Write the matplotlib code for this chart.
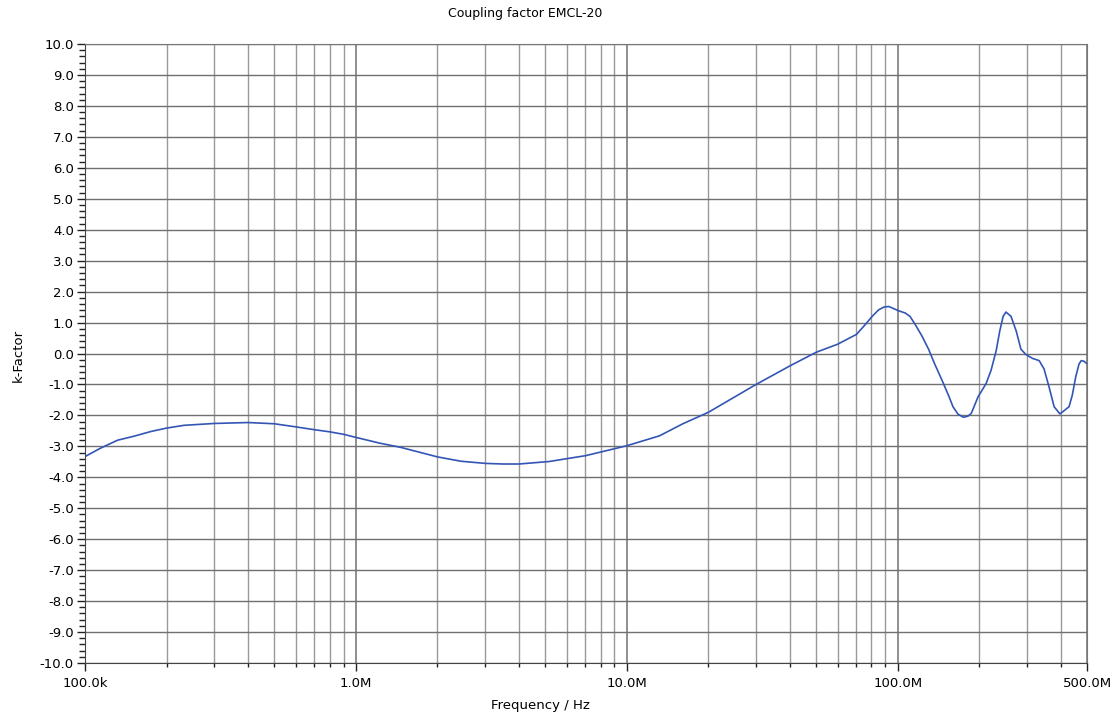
import matplotlib
matplotlib.use("Agg")
import matplotlib.pyplot as plt
import numpy as np
from matplotlib.ticker import FixedLocator, MultipleLocator, FuncFormatter, NullFormatter, LogLocator

# frequency in Hz, k-factor
freq = [100e3, 114e3, 132e3, 152e3, 175e3, 200e3, 232e3, 300e3, 400e3, 500e3,
        600e3, 700e3, 800e3, 900e3, 1.0e6, 1.23e6, 1.46e6, 2.0e6, 2.44e6, 3.0e6,
        3.5e6, 4.0e6, 5.16e6, 7.05e6, 10e6, 13.2e6, 16.1e6, 20e6, 30e6, 40e6,
        50e6, 60e6, 70.5e6, 76e6, 80.5e6, 85e6, 88.9e6, 92.7e6, 96.7e6, 100.8e6,
        106.6e6, 111e6, 116e6, 123e6, 130e6, 137e6, 145e6, 154e6, 160e6, 167e6,
        175e6, 182e6, 187e6, 198e6, 212e6, 221e6, 231e6, 238e6, 245e6, 251e6,
        262e6, 274e6, 285e6, 298e6, 315e6, 333e6, 347e6, 362e6, 378e6, 397e6,
        411e6, 429e6, 441e6, 454e6, 467e6, 476e6, 487e6, 498e6]
kfac = [-3.33, -3.06, -2.80, -2.67, -2.52, -2.41, -2.32, -2.26, -2.23, -2.27,
        -2.37, -2.46, -2.53, -2.61, -2.71, -2.90, -3.03, -3.34, -3.48, -3.55,
        -3.57, -3.57, -3.49, -3.30, -2.98, -2.66, -2.27, -1.90, -1.00, -0.40,
        0.04, 0.30, 0.62, 0.94, 1.20, 1.41, 1.50, 1.52, 1.45, 1.38,
        1.31, 1.20, 0.94, 0.56, 0.14, -0.34, -0.82, -1.35, -1.72, -1.96,
        -2.06, -2.02, -1.93, -1.40, -0.97, -0.55, 0.09, 0.72, 1.20, 1.34,
        1.20, 0.72, 0.14, -0.04, -0.16, -0.23, -0.50, -1.08, -1.72, -1.95,
        -1.85, -1.72, -1.35, -0.76, -0.34, -0.23, -0.25, -0.32]

xticks = [100e3, 1e6, 10e6, 100e6, 500e6]
xlabels = ["100.0k", "1.0M", "10.0M", "100.0M", "500.0M"]

fig = plt.figure(figsize=(11.14, 7.17), dpi=100)
ax = fig.add_axes([0.0763, 0.0753, 0.8995, 0.8633])

ax.plot(freq, kfac, color="#3355b5", lw=1.2)

ax.set_xscale("log")
ax.set_xlim(100e3, 500e6)
ax.set_ylim(-10, 10)

ax.xaxis.set_major_locator(FixedLocator(xticks))
ax.xaxis.set_major_formatter(FuncFormatter(lambda v, p: xlabels[xticks.index(v)] if v in xticks else ""))
ax.xaxis.set_minor_locator(LogLocator(base=10, subs=np.arange(2, 10), numticks=20))
ax.xaxis.set_minor_formatter(NullFormatter())

ax.yaxis.set_major_locator(MultipleLocator(1.0))
ax.yaxis.set_minor_locator(MultipleLocator(0.2))
ax.yaxis.set_major_formatter(FuncFormatter(lambda v, p: "%.1f" % v))

ax.grid(True, which="minor", axis="x", color="#999999", lw=1.0)
ax.grid(True, which="major", axis="x", color="#707070", lw=1.1)
ax.grid(True, which="major", axis="y", color="#707070", lw=1.0)

ax.tick_params(axis="y", which="major", length=6, width=1, color="#222222", labelsize=9.5, pad=2)
ax.tick_params(axis="y", which="minor", length=4, width=1, color="#222222")
ax.tick_params(axis="x", which="major", length=6, width=1, color="#222222", labelsize=9.5, pad=4)
ax.tick_params(axis="x", which="minor", length=3, width=1, color="#222222")

for s in ["left", "bottom"]:
    ax.spines[s].set_color("#444444")
for s in ["top", "right"]:
    ax.spines[s].set_color("#777777")

fig.text(525 / 1114, 1 - 14 / 717, "Coupling factor EMCL-20", ha="center", va="center", fontsize=9)
fig.text(540 / 1114, 1 - 705 / 717, "Frequency / Hz", ha="center", va="center", fontsize=9.5)
fig.text(18 / 1114, 1 - 355 / 717, "k-Factor", ha="center", va="center", rotation=90, fontsize=9.5)

fig.savefig("out.png", dpi=100, facecolor="white")
